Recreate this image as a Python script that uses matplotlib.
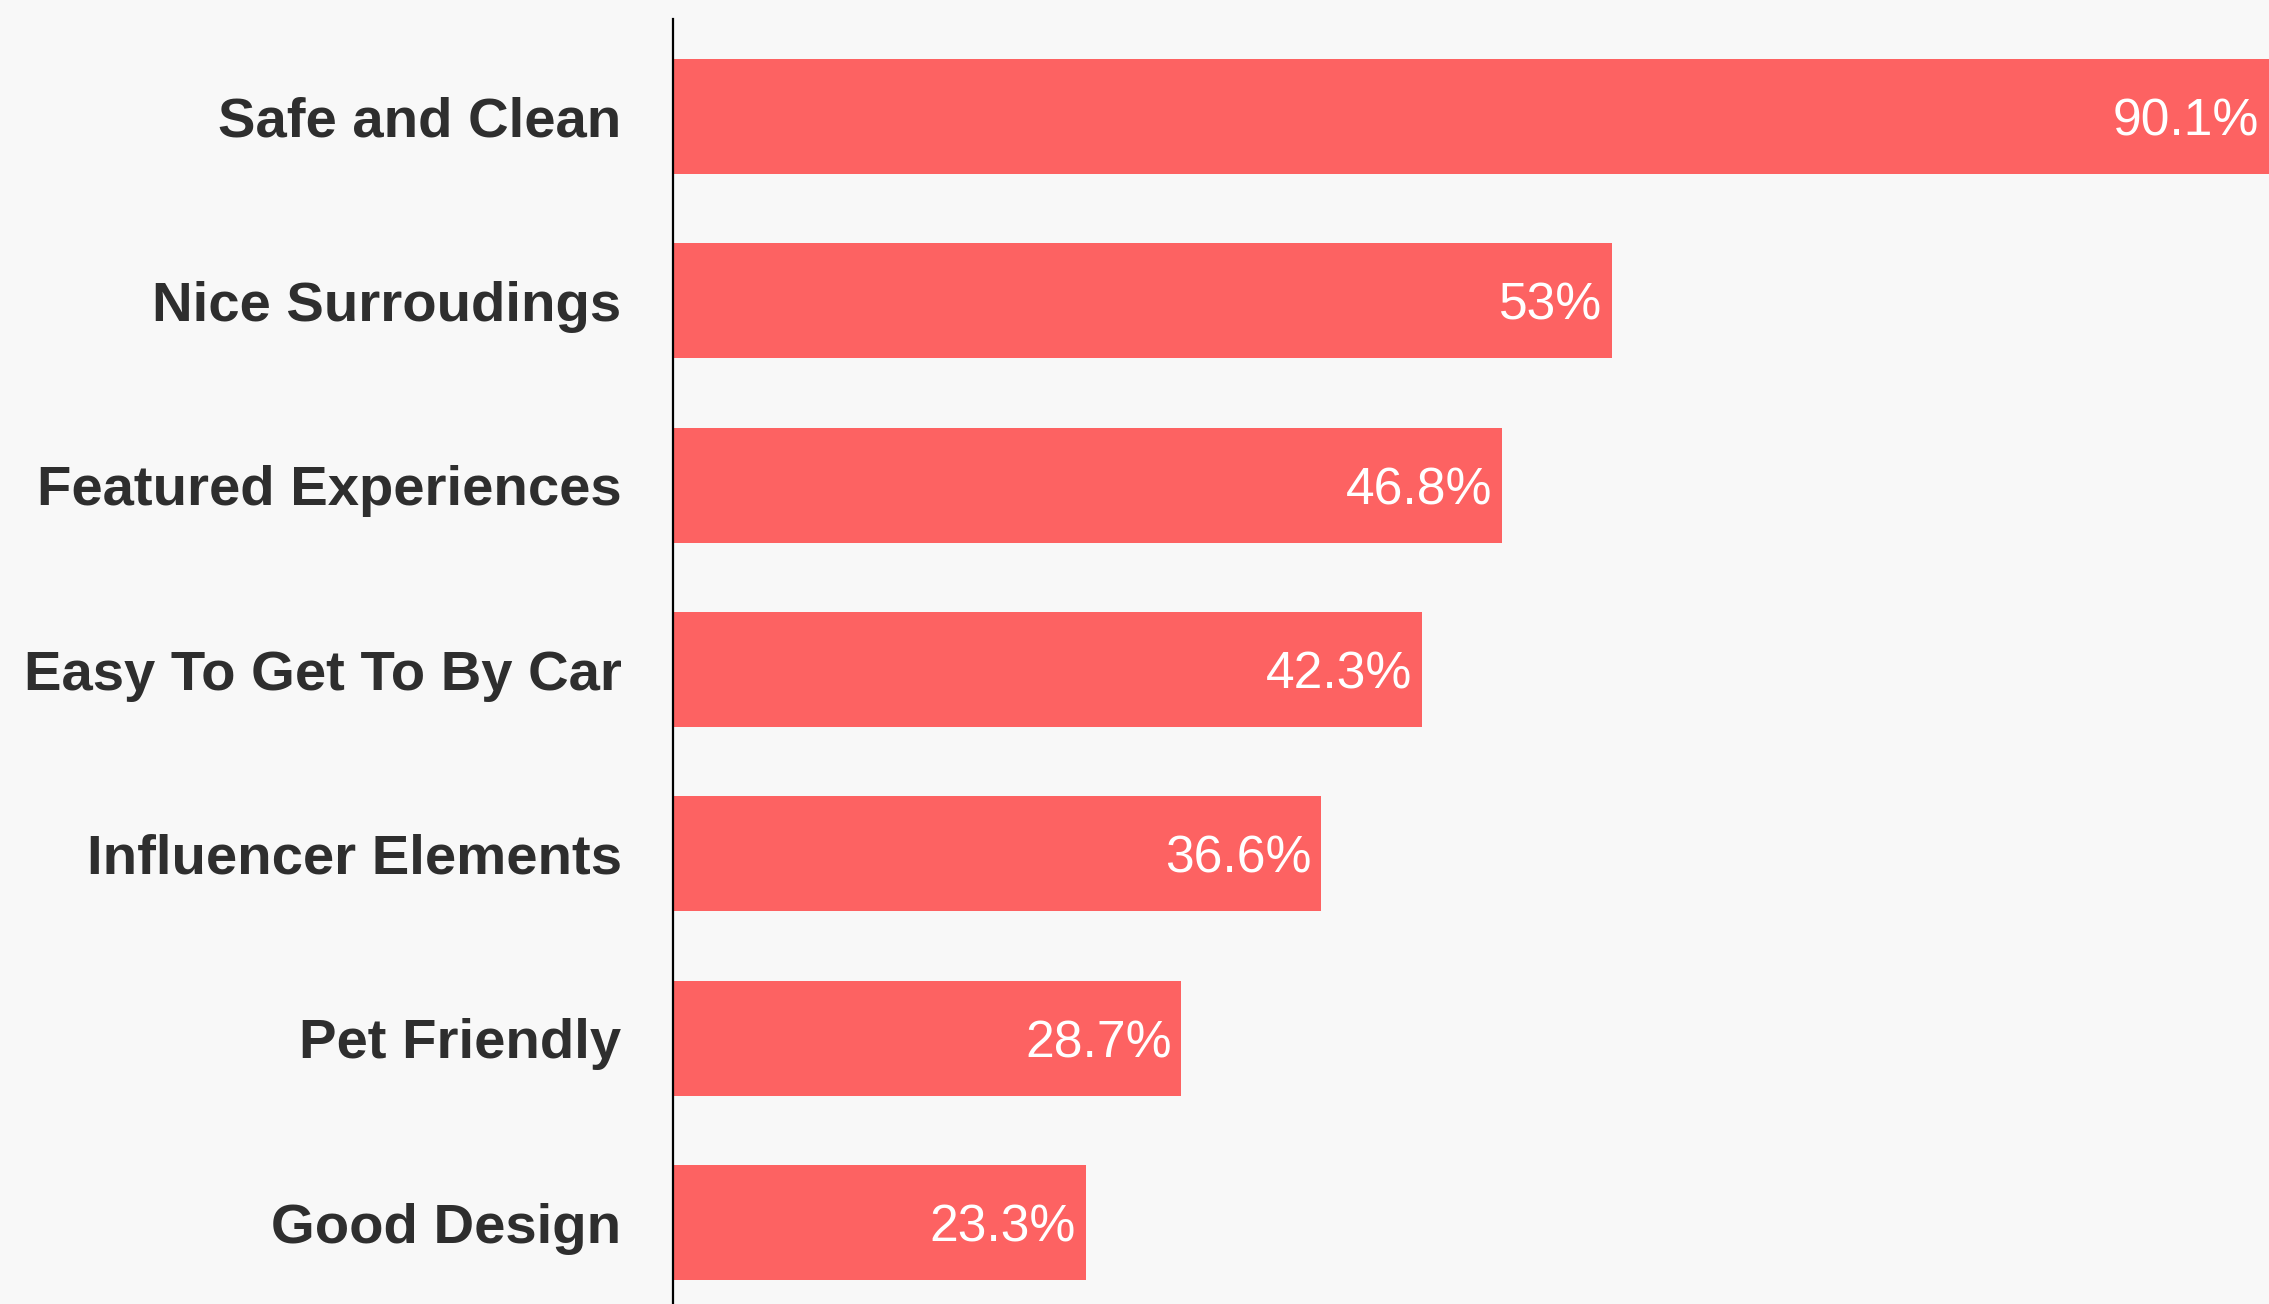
import matplotlib.pyplot as plt

# data
categories = ["Safe and Clean", "Nice Surroudings", "Featured Experiences",
              "Easy To Get To By Car", "Influencer Elements", "Pet Friendly",
              "Good Design"]
shares = [90.1, 53, 46.8, 42.3, 36.6, 28.7, 23.3]

bar_color = '#FD6262'
text_color = '#2E2E2E'
bg = '#F8F8F8'

fig = plt.figure(figsize=(22.69, 13.04), dpi=100, facecolor=bg)
ax = fig.add_axes([673 / 2269, 0, 1 - 673 / 2269, 1 - 19 / 1304])
ax.set_facecolor(bg)

pos = list(range(len(categories)))
ax.barh(pos, shares, height=0.625, color=bar_color, zorder=2)

# value labels inside bar ends
for y, v in zip(pos, shares):
    ax.annotate(f"{v:g}%", xy=(v, y), xytext=(-7, 0), textcoords='offset points',
                ha='right', va='center_baseline', color='white', fontsize=37.2,
                family='Liberation Sans', zorder=3)

ax.set_xlim(0, 90.1)
ax.set_ylim(6.442, -0.529)
ax.set_yticks(pos)
ax.set_yticklabels(categories, fontsize=40.5, fontweight='bold',
                   color=text_color, family='Liberation Sans')
ax.tick_params(axis='y', length=0, pad=37)
ax.set_xticks([])

for side in ['top', 'right', 'bottom']:
    ax.spines[side].set_visible(False)
ax.spines['left'].set_color('black')
ax.spines['left'].set_linewidth(1.6)

fig.savefig('out.png', dpi=100, facecolor=bg)
